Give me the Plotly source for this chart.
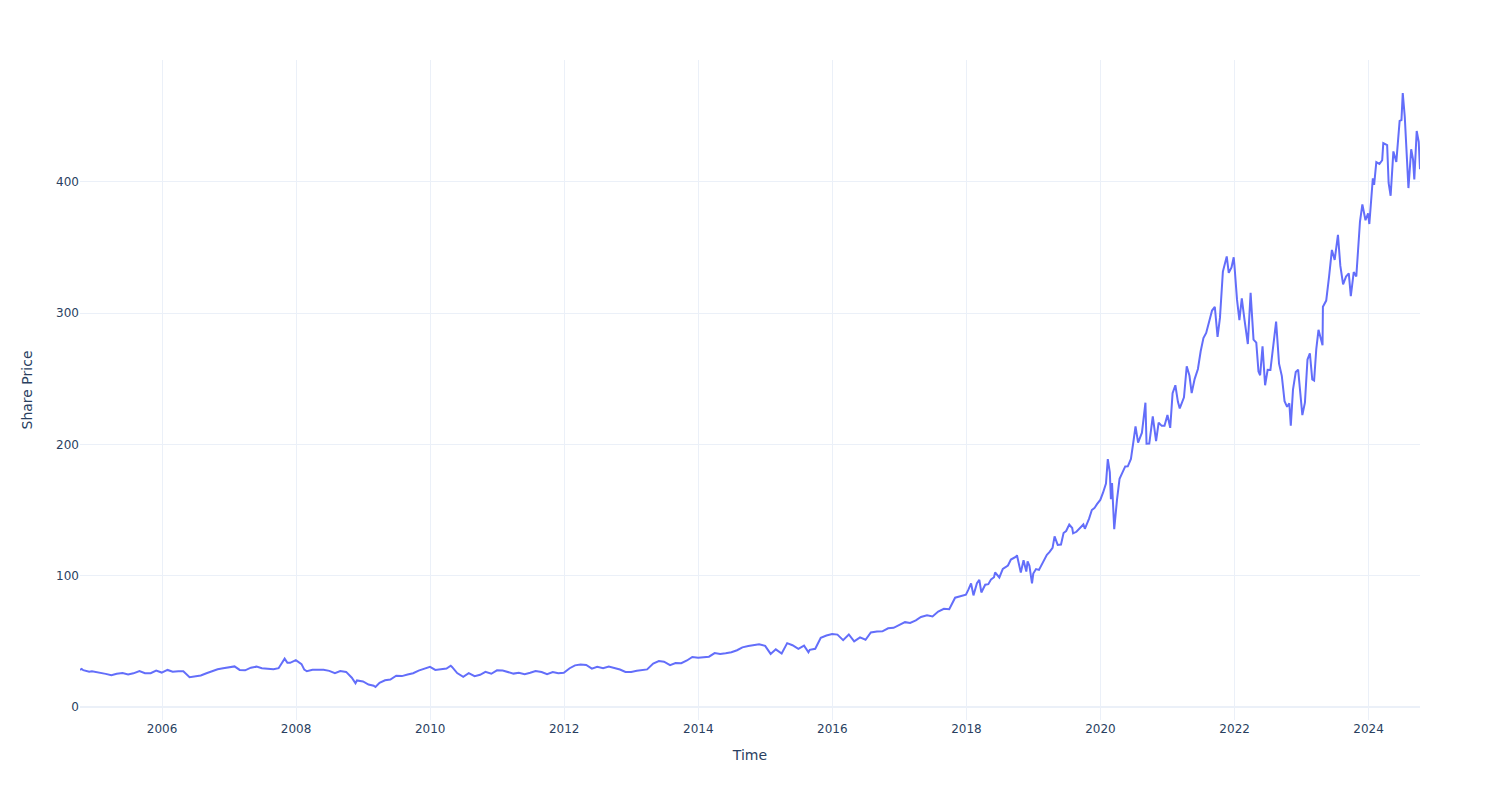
import plotly.graph_objects as go

dates = [
    "2004-10-11", "2004-10-20", "2004-10-29", "2004-11-15", "2004-11-30", "2004-12-15", "2004-12-31",
    "2005-01-31", "2005-02-28", "2005-03-31", "2005-04-29", "2005-05-31", "2005-06-30",
    "2005-07-29", "2005-08-31", "2005-09-30", "2005-10-31", "2005-11-30", "2005-12-30",
    "2006-01-31", "2006-02-28", "2006-03-31", "2006-04-27", "2006-05-31", "2006-06-30",
    "2006-07-31", "2006-08-31", "2006-09-29", "2006-10-31", "2006-11-30", "2006-12-29",
    "2007-01-31", "2007-02-28", "2007-03-30", "2007-04-30", "2007-05-31", "2007-06-29",
    "2007-07-31", "2007-08-31", "2007-09-28", "2007-10-31", "2007-11-15", "2007-11-30", "2007-12-31",
    "2008-01-15", "2008-01-31", "2008-02-15", "2008-02-29", "2008-03-31", "2008-04-30", "2008-05-30",
    "2008-06-30", "2008-07-31", "2008-08-29", "2008-09-30", "2008-10-31", "2008-11-20", "2008-11-28", "2008-12-31",
    "2009-01-30", "2009-02-27", "2009-03-09", "2009-03-31", "2009-04-30", "2009-05-29", "2009-06-30",
    "2009-07-31", "2009-08-31", "2009-09-30", "2009-10-30", "2009-11-30", "2009-12-31",
    "2010-01-29", "2010-02-26", "2010-03-31", "2010-04-23", "2010-04-30", "2010-05-28", "2010-06-30",
    "2010-07-30", "2010-08-31", "2010-09-30", "2010-10-29", "2010-11-30", "2010-12-31",
    "2011-01-31", "2011-02-28", "2011-03-31", "2011-04-29", "2011-05-31", "2011-06-30",
    "2011-07-29", "2011-08-31", "2011-09-30", "2011-10-31", "2011-11-30", "2011-12-30",
    "2012-01-31", "2012-02-29", "2012-03-30", "2012-04-30", "2012-05-31", "2012-06-29",
    "2012-07-31", "2012-08-31", "2012-09-28", "2012-10-31", "2012-11-30", "2012-12-31",
    "2013-01-31", "2013-02-28", "2013-03-28", "2013-04-30", "2013-05-31", "2013-06-28",
    "2013-07-31", "2013-08-30", "2013-09-30", "2013-10-31", "2013-11-29", "2013-12-31",
    "2014-01-31", "2014-02-28", "2014-03-31", "2014-04-30", "2014-05-30", "2014-06-30",
    "2014-07-31", "2014-08-29", "2014-09-30", "2014-10-31", "2014-11-28", "2014-12-31",
    "2015-01-30", "2015-02-27", "2015-03-31", "2015-04-30", "2015-05-29", "2015-06-30",
    "2015-07-31", "2015-08-24", "2015-08-31", "2015-09-30", "2015-10-30", "2015-11-30", "2015-12-31",
    "2016-01-29", "2016-02-29", "2016-03-31", "2016-04-29", "2016-05-31", "2016-06-30",
    "2016-07-29", "2016-08-31", "2016-09-30", "2016-10-31", "2016-11-30", "2016-12-30",
    "2017-01-31", "2017-02-28", "2017-03-31", "2017-04-28", "2017-05-31", "2017-06-30",
    "2017-07-31", "2017-08-31", "2017-09-29", "2017-10-31", "2017-11-30", "2017-12-29",
    "2018-01-12", "2018-01-26", "2018-02-08", "2018-02-27", "2018-03-12", "2018-03-23",
    "2018-04-13", "2018-04-30", "2018-05-15", "2018-05-31", "2018-06-06", "2018-06-29",
    "2018-07-18", "2018-07-31", "2018-08-15", "2018-08-31", "2018-09-14", "2018-09-28",
    "2018-10-03", "2018-10-24", "2018-10-31", "2018-11-08", "2018-11-23", "2018-11-30",
    "2018-12-10", "2018-12-24", "2018-12-31",
    "2019-01-15", "2019-01-31", "2019-02-15", "2019-02-28", "2019-03-15", "2019-03-29",
    "2019-04-15", "2019-04-26", "2019-05-13", "2019-05-31", "2019-06-14", "2019-06-28",
    "2019-07-15", "2019-07-31", "2019-08-05", "2019-08-23", "2019-09-10", "2019-09-30",
    "2019-10-08", "2019-10-31", "2019-11-15", "2019-11-29", "2019-12-13", "2019-12-31",
    "2020-01-15", "2020-01-31", "2020-02-10", "2020-02-21", "2020-02-27", "2020-03-04",
    "2020-03-16", "2020-03-24", "2020-03-31", "2020-04-14", "2020-04-30", "2020-05-15",
    "2020-05-29", "2020-06-15", "2020-06-30", "2020-07-10", "2020-07-24", "2020-08-14",
    "2020-09-02", "2020-09-08", "2020-09-23", "2020-10-12", "2020-10-30", "2020-11-13",
    "2020-11-30", "2020-12-15", "2020-12-31",
    "2021-01-15", "2021-01-28", "2021-02-12", "2021-02-26", "2021-03-08", "2021-03-31",
    "2021-04-15", "2021-04-30", "2021-05-12", "2021-05-28", "2021-06-15", "2021-06-30",
    "2021-07-15", "2021-07-30", "2021-08-16", "2021-08-31", "2021-09-15", "2021-09-30",
    "2021-10-13", "2021-10-29", "2021-11-19", "2021-11-30", "2021-12-15", "2021-12-27", "2021-12-31",
    "2022-01-14", "2022-01-27", "2022-02-09", "2022-02-24", "2022-03-14", "2022-03-29",
    "2022-04-14", "2022-04-29", "2022-05-11", "2022-05-20", "2022-06-02", "2022-06-16",
    "2022-06-30", "2022-07-15", "2022-08-15", "2022-08-31", "2022-09-15", "2022-09-30",
    "2022-10-14", "2022-10-26", "2022-11-03", "2022-11-15", "2022-11-30", "2022-12-13", "2022-12-28",
    "2023-01-05", "2023-01-19", "2023-02-02", "2023-02-15", "2023-02-28", "2023-03-10",
    "2023-03-22", "2023-04-03", "2023-04-25", "2023-04-27", "2023-05-15", "2023-05-31",
    "2023-06-15", "2023-06-30", "2023-07-18", "2023-07-31", "2023-08-15", "2023-08-31",
    "2023-09-15", "2023-09-26", "2023-10-12", "2023-10-26", "2023-11-15", "2023-11-28",
    "2023-12-15", "2023-12-29",
    "2024-01-05", "2024-01-24", "2024-01-31", "2024-02-12", "2024-02-29", "2024-03-15",
    "2024-03-21", "2024-04-11", "2024-04-19", "2024-04-30", "2024-05-15", "2024-05-31",
    "2024-06-18", "2024-06-28", "2024-07-05", "2024-07-16", "2024-07-24", "2024-08-05",
    "2024-08-20", "2024-08-30", "2024-09-06", "2024-09-19", "2024-09-30", "2024-10-07",
]

prices = [
    28.3, 29.0, 28.0, 27.4, 26.8, 27.1, 26.7,
    26.3, 25.2, 24.2, 25.3, 25.8, 24.8,
    25.6, 27.4, 25.7, 25.7, 27.7, 26.2,
    28.2, 26.9, 27.2, 27.2, 22.7, 23.3,
    24.0, 25.7, 27.4, 28.7, 29.4, 29.9,
    30.9, 28.2, 27.9, 29.9, 30.7, 29.5,
    29.0, 28.7, 29.5, 36.8, 33.6, 33.6, 35.6,
    34.0, 32.6, 28.4, 27.2, 28.4, 28.5, 28.3,
    27.5, 25.7, 27.3, 26.7, 22.3, 18.1, 20.2, 19.4,
    17.1, 16.2, 15.2, 18.4, 20.3, 20.9, 23.8,
    23.5, 24.7, 25.7, 27.7, 29.4, 30.5,
    28.2, 28.7, 29.3, 31.4, 30.5, 25.8, 23.0,
    25.8, 23.5, 24.5, 26.7, 25.3, 27.9,
    27.7, 26.6, 25.4, 26.0, 25.0, 26.0,
    27.4, 26.6, 24.9, 26.6, 25.6, 26.0,
    29.5, 31.7, 32.3, 32.0, 29.2, 30.6,
    29.5, 30.8, 29.8, 28.5, 26.6, 26.7,
    27.5, 27.8, 28.6, 33.1, 34.9, 34.5,
    31.8, 33.4, 33.3, 35.4, 38.1, 37.4,
    37.8, 38.3, 41.0, 40.4, 40.9, 41.7,
    43.2, 45.4, 46.4, 46.9, 47.8, 46.5,
    40.4, 43.9, 40.7, 48.6, 47.0, 44.2,
    46.7, 41.7, 43.5, 44.3, 52.6, 54.4, 55.5,
    55.1, 50.9, 55.2, 49.9, 53.0, 51.2,
    56.7, 57.5, 57.6, 59.9, 60.3, 62.1,
    64.6, 64.0, 65.9, 68.5, 69.8, 68.9,
    72.7, 74.8, 74.5, 83.2, 84.2, 85.5,
    89.6, 94.1, 85.0, 94.2, 96.8, 87.2,
    93.1, 93.5, 97.2, 98.8, 102.5, 98.6,
    105.1, 106.1, 107.7, 112.3, 113.4, 114.4,
    115.6, 102.3, 106.8, 111.8, 103.1, 110.9,
    107.6, 94.1, 101.6,
    105.0, 104.4, 108.2, 112.0, 115.9, 117.9,
    121.1, 129.9, 123.4, 123.7, 132.5, 134.0,
    138.9, 136.3, 132.2, 133.4, 136.1, 139.0,
    135.7, 143.4, 150.0, 151.4, 154.5, 157.7,
    163.2, 170.2, 188.7, 178.6, 158.2, 170.6,
    135.4, 148.3, 157.7, 173.7, 179.2, 183.2,
    183.3, 188.9, 203.5, 213.7, 201.3, 208.9,
    231.7, 200.5, 200.6, 221.4, 202.5, 216.5,
    214.1, 214.1, 222.4,
    212.6, 238.9, 245.0, 232.4, 227.4, 235.8,
    259.5, 252.2, 239.0, 249.7, 257.4, 270.9,
    281.0, 284.9, 294.6, 301.9, 304.8, 281.9,
    296.3, 331.6, 343.1, 330.6, 334.7, 342.5, 336.3,
    310.2, 294.6, 311.2, 294.6, 276.4, 315.4,
    279.8, 277.5, 255.4, 252.6, 274.6, 245.0,
    256.8, 256.7, 293.5, 261.5, 252.2, 232.9,
    228.6, 231.3, 214.3, 241.7, 255.1, 256.9, 234.5,
    222.3, 231.8, 264.6, 269.3, 249.4, 248.6,
    272.8, 287.2, 275.4, 304.8, 309.5, 328.4,
    348.1, 340.5, 359.5, 335.9, 321.9, 327.8,
    330.2, 312.8, 331.2, 327.9, 369.7, 382.7,
    370.7, 376.0,
    367.8, 402.6, 397.6, 415.0, 413.6, 416.4,
    429.4, 427.9, 399.1, 389.3, 423.1, 415.1,
    446.3, 447.0, 467.6, 449.5, 428.9, 395.2,
    424.8, 417.1, 401.7, 438.7, 430.3, 409.5,
]

fig = go.Figure(
    go.Scatter(x=dates, y=prices, mode="lines", line=dict(color="#636efa", width=2), showlegend=False)
)
fig.update_layout(
    template="plotly_white",
    width=1492,
    height=792,
    font=dict(family="DejaVu Sans"),
    margin=dict(t=52, b=80, l=72, r=80, autoexpand=False),
    xaxis_title="Time",
    yaxis_title="Share Price",
)
fig.update_yaxes(dtick=100, title_standoff=20)
fig.update_xaxes(dtick="M24")
fig.write_html("out.html")
